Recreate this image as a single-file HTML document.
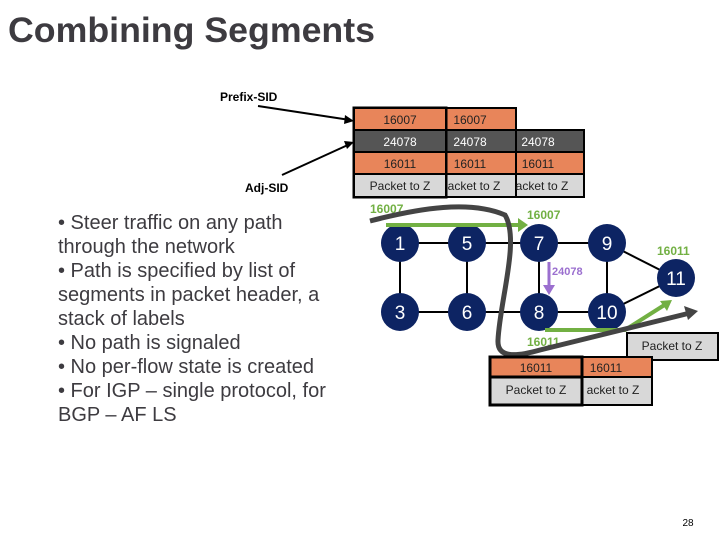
<!DOCTYPE html>
<html><head><meta charset="utf-8"><style>
body{margin:0;width:720px;height:540px;background:#fff;overflow:hidden;font-family:"Liberation Sans",Arial,sans-serif}
</style></head><body>
<svg width="720" height="540" xmlns="http://www.w3.org/2000/svg" font-family="Liberation Sans, Arial, sans-serif">
<text x="8" y="42" font-size="35" font-weight="bold" fill="#3d3b40" textLength="367" lengthAdjust="spacingAndGlyphs">Combining Segments</text>
<g font-size="20" fill="#3d3b40">
<text x="58" y="229">•  Steer traffic on any path</text>
<text x="58" y="253">through the network</text>
<text x="58" y="277">•  Path is specified by list of</text>
<text x="58" y="301">segments in packet header, a</text>
<text x="58" y="325">stack of labels</text>
<text x="58" y="349">•  No path is signaled</text>
<text x="58" y="373">•  No per-flow state is created</text>
<text x="58" y="397">•  For IGP – single protocol, for</text>
<text x="58" y="421">BGP – AF LS</text>
</g>
<text x="220" y="101" font-size="12" font-weight="bold" fill="#000">Prefix-SID</text>
<text x="245" y="192" font-size="12" font-weight="bold" fill="#000">Adj-SID</text>
<line x1="258" y1="106" x2="350" y2="120" stroke="#000" stroke-width="2"/>
<polygon points="354,121 345,115 344,124" fill="#000"/>
<line x1="282" y1="175" x2="350" y2="144" stroke="#000" stroke-width="2"/>
<polygon points="354,142 344,141 347,149" fill="#000"/>
<g font-size="12" text-anchor="middle">
<rect x="446" y="108" width="70" height="22" fill="#e8855a" stroke="#000" stroke-width="2"/>
<rect x="446" y="130" width="138" height="22" fill="#555" stroke="#000" stroke-width="2"/>
<rect x="446" y="152" width="138" height="22" fill="#e8855a" stroke="#000" stroke-width="2"/>
<rect x="446" y="174" width="138" height="23" fill="#d8d8d8" stroke="#000" stroke-width="2"/>
<line x1="516" y1="130" x2="516" y2="197" stroke="#000" stroke-width="2"/>
<rect x="354" y="108" width="92" height="89" fill="none" stroke="#000" stroke-width="3"/>
<rect x="355" y="109" width="90" height="21" fill="#e8855a"/>
<rect x="355" y="130" width="90" height="22" fill="#555"/>
<rect x="355" y="152" width="90" height="22" fill="#e8855a"/>
<rect x="355" y="174" width="90" height="22" fill="#d8d8d8"/>
<line x1="354" y1="130" x2="446" y2="130" stroke="#000" stroke-width="2"/>
<line x1="354" y1="152" x2="446" y2="152" stroke="#000" stroke-width="2"/>
<line x1="354" y1="174" x2="446" y2="174" stroke="#000" stroke-width="2"/>
<text x="400" y="124" fill="#222">16007</text><text x="470" y="124" fill="#222">16007</text>
<text x="400" y="146" fill="#fff">24078</text><text x="470" y="146" fill="#fff">24078</text><text x="538" y="146" fill="#fff">24078</text>
<text x="400" y="168" fill="#222">16011</text><text x="470" y="168" fill="#222">16011</text><text x="538" y="168" fill="#222">16011</text>
<text x="400" y="190" fill="#222">Packet to Z</text><text x="474" y="190" fill="#222">acket to Z</text><text x="542" y="190" fill="#222">acket to Z</text>
</g>
<g stroke="#000" stroke-width="2">
<line x1="400" y1="243" x2="607" y2="243"/><line x1="400" y1="312" x2="607" y2="312"/>
<line x1="400" y1="243" x2="400" y2="312"/><line x1="467" y1="243" x2="467" y2="312"/>
<line x1="539" y1="243" x2="539" y2="312"/><line x1="607" y1="243" x2="607" y2="312"/>
<line x1="607" y1="243" x2="676" y2="278"/><line x1="607" y1="312" x2="676" y2="278"/>
</g>
<g fill="#0d2463">
<circle cx="400" cy="243" r="19"/><circle cx="467" cy="243" r="19"/><circle cx="539" cy="243" r="19"/><circle cx="607" cy="243" r="19"/>
<circle cx="400" cy="312" r="19"/><circle cx="467" cy="312" r="19"/><circle cx="539" cy="312" r="19"/><circle cx="607" cy="312" r="19"/>
<circle cx="676" cy="278" r="19"/>
</g>
<g fill="#fff" font-size="19" text-anchor="middle">
<text x="400" y="250">1</text><text x="467" y="250">5</text><text x="539" y="250">7</text><text x="607" y="250">9</text>
<text x="400" y="319">3</text><text x="467" y="319">6</text><text x="539" y="319">8</text><text x="607" y="319">10</text>
<text x="676" y="285">11</text>
</g>
<line x1="386" y1="225" x2="520" y2="225" stroke="#72b043" stroke-width="4"/>
<polygon points="528,225 518,218 518,232" fill="#72b043"/>
<polyline points="545,330 625,330 666,304" fill="none" stroke="#72b043" stroke-width="4"/>
<polygon points="672,300 660,301 667,311" fill="#72b043"/>
<line x1="549" y1="262" x2="549" y2="288" stroke="#9b6fcf" stroke-width="3"/>
<polygon points="549,295 543,285 555,285" fill="#9b6fcf"/>
<text x="552" y="275" font-size="11" font-weight="bold" fill="#9b6fcf">24078</text>
<g font-size="12" font-weight="bold" fill="#72b043">
<text x="370" y="213">16007</text><text x="527" y="219">16007</text>
<text x="657" y="255">16011</text><text x="527" y="346">16011</text>
</g>
<path d="M370,221 C420,208 470,200 505,215 C520,240 500,300 498,340 C497,358 515,357 540,350 L690,313" fill="none" stroke="#444" stroke-width="5"/>
<polygon points="698,311 684,306 688,320" fill="#444"/>
<g font-size="12" text-anchor="middle" fill="#222">
<rect x="627" y="333" width="91" height="27" fill="#d8d8d8" stroke="#000" stroke-width="2"/>
<text x="672" y="350">Packet to Z</text>
<rect x="582" y="357" width="70" height="20" fill="#e8855a" stroke="#000" stroke-width="2"/>
<rect x="582" y="377" width="70" height="28" fill="#d8d8d8" stroke="#000" stroke-width="2"/>
<rect x="490" y="357" width="92" height="20" fill="#e8855a" stroke="#000" stroke-width="3"/>
<rect x="490" y="377" width="92" height="28" fill="#d8d8d8" stroke="#000" stroke-width="3"/>
<text x="536" y="372">16011</text><text x="606" y="372">16011</text>
<text x="536" y="394">Packet to Z</text><text x="613" y="394">acket to Z</text>
</g>
<text x="688" y="526" font-size="10" text-anchor="middle" fill="#000">28</text>
</svg>
</body></html>
